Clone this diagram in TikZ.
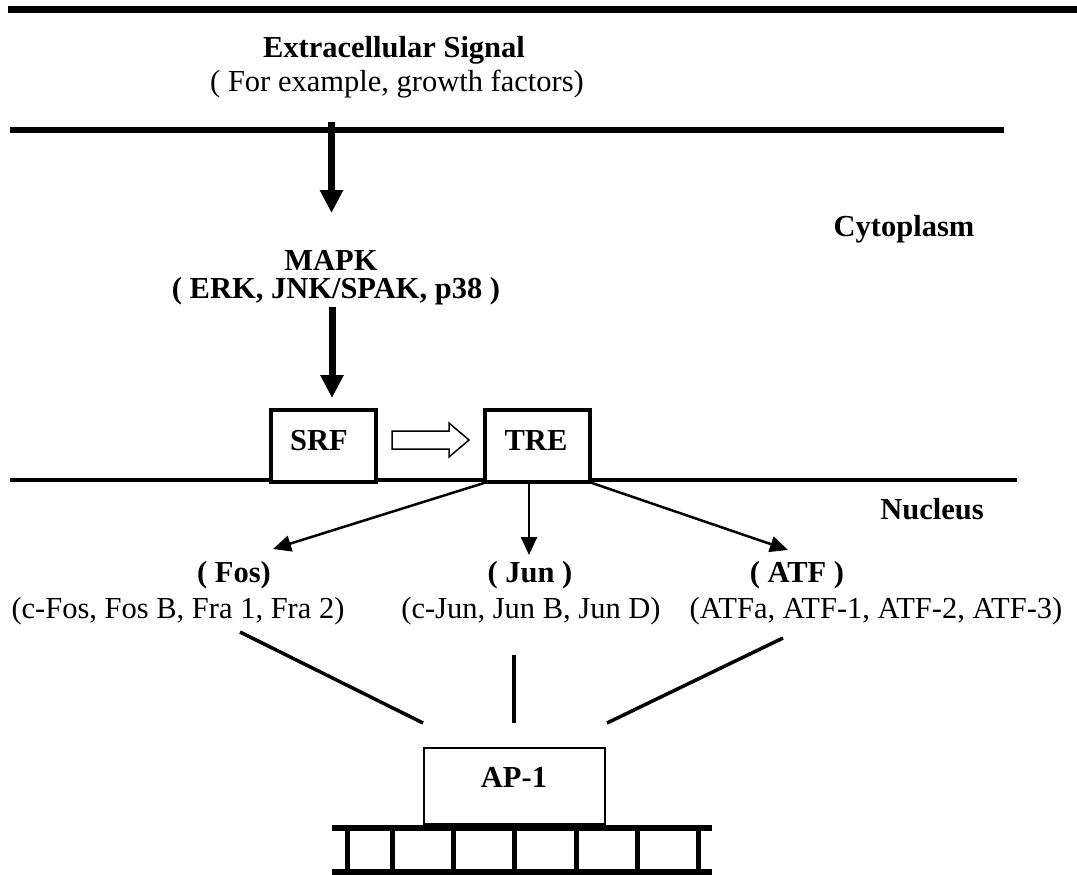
\documentclass[tikz,border=0pt]{standalone}
\usepackage{fontspec}
\setmainfont{Liberation Serif}
\usetikzlibrary{arrows.meta}
\begin{document}
\begin{tikzpicture}[x=1pt,y=-1pt,
  txt/.style={anchor=base, inner sep=0pt, font=\fontsize{30.5}{36}\selectfont},
  btxt/.style={anchor=base, inner sep=0pt, font=\fontsize{30.5}{36}\selectfont\bfseries},
  box/.style={draw, line width=3.5pt, fill=white, inner sep=0pt},
  bigarrow/.style={line width=7pt, -{Triangle[length=23pt,width=22pt]}},
  thinarrow/.style={line width=2.5pt, -{Triangle[length=18pt,width=16pt]}},
  link/.style={line width=3.5pt},
  membrane/.style={line width=6pt}]
\useasboundingbox (0,0) rectangle (1077,875);

% frame rule and membranes
\draw[line width=7pt] (8,10) -- (1077,10);
\draw[membrane] (10,130) -- (1004,130);
\draw[line width=4pt] (10,480) -- (1017,480);

% signal text
\node[btxt] (ext) at (394,58) {Extracellular Signal};
\node[txt] (exs) at (397,92) {( For example, growth factors)};
\node[btxt] (cyto) at (904,236) {Cytoplasm};
\node[btxt] (mapk) at (331,270) {MAPK};
\node[btxt] (mapks) at (336,298) {( ERK, JNK/SPAK, p38 )};
\node[btxt] (nuc) at (932,519) {Nucleus};

% signal arrows
\coordinate (sig) at (331.5,122);
\coordinate (mapkin) at (331.5,213);
\coordinate (mapkout) at (332,307);
\coordinate (srfin) at (332,398);
\draw[bigarrow] (sig) -- (mapkin);
\draw[bigarrow] (mapkout) -- (srfin);

% SRF and TRE boxes
\node[box, minimum width=105pt, minimum height=72pt] (srf) at (323.5,446) {};
\node[btxt] (srfl) at (319,450) {SRF};
\node[box, minimum width=105pt, minimum height=72pt] (tre) at (537.5,446) {};
\node[btxt] (trel) at (536,450) {TRE};

% hollow arrow SRF -> TRE
\draw[line width=1.5pt, fill=white]
  (392,431) -- (449,431) -- (449,423) -- (469,440) -- (449,457) -- (449,449) -- (392,449) -- cycle;

% families
\node[btxt] (fos) at (234,582) {( Fos)};
\node[txt] (fosd) at (178,618) {(c-Fos, Fos B, Fra 1, Fra 2)};
\node[btxt] (jun) at (530,582) {( Jun )};
\node[txt] (jund) at (531,618) {(c-Jun, Jun B, Jun D)};
\node[btxt] (atf) at (797,582) {( ATF )};
\node[txt] (atfd) at (876,618) {(ATFa, ATF-1, ATF-2, ATF-3)};

% TRE -> families
\coordinate (treL) at (484,483);
\coordinate (treM) at (529,483);
\coordinate (treR) at (592,483);
\coordinate (fosin) at (273,549);
\coordinate (junin) at (529,555);
\coordinate (atfin) at (788,550);
\draw[thinarrow] (treL) -- (fosin);
\draw[thinarrow] (treM) -- (junin);
\draw[thinarrow] (treR) -- (atfin);

% AP-1 complex on DNA
\node[box, line width=2.5pt, minimum width=181pt, minimum height=76pt] (ap1) at (514.5,786) {};
\node[btxt] (ap1l) at (514,787) {AP-1};

\coordinate (fosout) at (240,632);
\coordinate (junout) at (514,655);
\coordinate (atfout) at (783,638);
\coordinate (apL) at (423,723);
\coordinate (apM) at (514,723);
\coordinate (apR) at (607,723);
\draw[link] (fosout) -- (apL);
\draw[link] (junout) -- (apM);
\draw[link] (atfout) -- (apR);

% DNA ladder
\draw[line width=6pt] (332,828) -- (712,828);
\draw[line width=6pt] (332,872) -- (712,872);
\foreach \rx in {347,392,453,514,576,637,698}
  \draw[line width=5pt] (\rx,828) -- (\rx,872);
\end{tikzpicture}
\end{document}
